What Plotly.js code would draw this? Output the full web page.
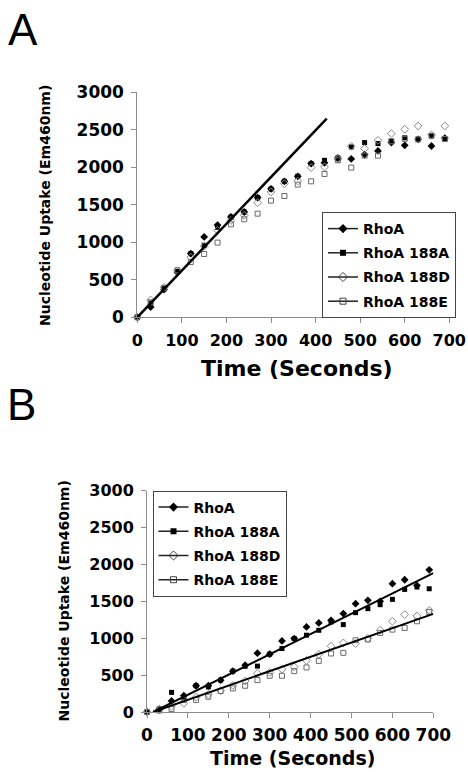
<!DOCTYPE html>
<html>
<head>
<meta charset="utf-8">
<script src="https://cdn.plot.ly/plotly-3.0.1.min.js"></script>
<style>html,body{margin:0;padding:0;background:#fff;}#chart{width:468px;height:772px;}</style>
</head>
<body>
<div id="chart"></div>
<script>
// ---- Data ----
const seriesNames = ["RhoA", "RhoA 188A", "RhoA 188D", "RhoA 188E"];
const xTicks = [0, 100, 200, 300, 400, 500, 600, 700];
const yTicks = [0, 500, 1000, 1500, 2000, 2500, 3000];

// Panel A
const timeA = [0,30,60,90,120,150,180,210,240,270,300,330,360,390,420,450,480,510,540,570,600,630,660,690];
const rhoA_A   = [0,137,370,600,849,1071,1230,1337,1404,1596,1711,1813,1880,2049,2060,2124,2111,2170,2218,2330,2293,2373,2284,2390];
const r188A_A  = [0,190,380,610,849,960,1200,1337,1404,1596,1711,1813,1880,2049,2093,2124,2271,2329,2316,2347,2393,2373,2420,2377];
const r188D_A  = [0,231,400,620,800,947,1160,1290,1360,1529,1671,1782,1817,1996,2004,2110,2280,2249,2360,2449,2507,2551,2430,2551];
const r188E_A  = [0,200,390,627,737,844,996,1240,1307,1382,1556,1617,1769,1813,1911,2093,1996,2156,2156,2347,2380,2373,2420,2377];
const fitA_x = [0, 425];
const fitA_y = [0, 2650];

// Panel B
const timeB = [0,30,60,90,120,150,180,210,240,270,300,330,360,390,420,450,480,510,540,570,600,630,660,690];
const rhoA_B   = [0,40,150,221,356,356,432,554,635,797,784,964,996,1153,1207,1243,1334,1468,1514,1500,1739,1793,1716,1928];
const r188A_B  = [0,40,266,200,356,340,432,554,620,622,784,860,996,1041,1108,1221,1185,1347,1401,1455,1527,1662,1694,1671];
const r188D_B  = [0,30,80,117,200,240,290,360,420,523,536,580,612,700,780,892,937,928,1000,1108,1230,1320,1302,1378];
const r188E_B  = [0,20,40,162,162,207,284,320,356,432,491,491,554,604,693,793,802,973,982,1072,1117,1140,1230,1356];
const fitB1_x = [15, 700];
const fitB1_y = [0, 1882];
const fitB2_x = [15, 700];
const fitB2_y = [0, 1330];

// ---- Styles ----
const FONT = "DejaVu Sans";
const styles = [
  {symbol: "diamond", color: "#000", size: 6, lw: 0},
  {symbol: "square", color: "#000", size: 5, lw: 0},
  {symbol: "diamond-open", color: "#8a8a8a", size: 6, lw: 1},
  {symbol: "square-open", color: "#6a6a6a", size: 5, lw: 1}
];

function dataTraces(x, ys, xa, ya) {
  return ys.map((y, i) => ({
    type: "scatter", mode: "markers", x: x, y: y, xaxis: xa, yaxis: ya,
    showlegend: false, cliponaxis: false, hoverinfo: "skip",
    marker: {symbol: styles[i].symbol, size: styles[i].size, color: styles[i].color,
             line: {width: styles[i].lw, color: styles[i].color}}
  }));
}
function legendTraces(legendId, xa, ya) {
  return seriesNames.map((n, i) => ({
    type: "scatter", mode: "lines+markers", x: [null], y: [null], xaxis: xa, yaxis: ya,
    name: n, legend: legendId, legendgroup: legendId + i,
    line: {color: "#222", width: 1.5},
    marker: {symbol: styles[i].symbol, size: styles[i].size + 1, color: i < 2 ? "#000" : "#444",
             line: {width: i < 2 ? 0 : 1, color: i < 2 ? "#000" : "#444"}}
  }));
}

const traces = [].concat(
  dataTraces(timeA, [rhoA_A, r188A_A, r188D_A, r188E_A], "x", "y"),
  [{type: "scatter", mode: "lines", x: fitA_x, y: fitA_y, xaxis: "x", yaxis: "y",
    showlegend: false, hoverinfo: "skip", line: {color: "#000", width: 2.5}}],
  legendTraces("legend", "x", "y"),
  dataTraces(timeB, [rhoA_B, r188A_B, r188D_B, r188E_B], "x2", "y2"),
  [{type: "scatter", mode: "lines", x: fitB1_x, y: fitB1_y, xaxis: "x2", yaxis: "y2",
    showlegend: false, hoverinfo: "skip", line: {color: "#000", width: 2}},
   {type: "scatter", mode: "lines", x: fitB2_x, y: fitB2_y, xaxis: "x2", yaxis: "y2",
    showlegend: false, hoverinfo: "skip", line: {color: "#000", width: 2}}],
  legendTraces("legend2", "x2", "y2")
);

function xAxis(domain, anchor, fs) {
  return {domain: domain, anchor: anchor, range: [0, 700], tickvals: xTicks, ticktext: xTicks.map(String),
    showgrid: false, zeroline: false, showline: true, linecolor: "#8c8c8c", linewidth: 1,
    ticks: "outside", ticklen: 5, tickcolor: "#8c8c8c", ticklabelstandoff: 3,
    tickfont: {family: FONT, size: fs, color: "#000", weight: "bold"}, fixedrange: true};
}
function yAxis(domain, anchor, fs) {
  return {domain: domain, anchor: anchor, range: [0, 3000], tickvals: yTicks, ticktext: yTicks.map(String),
    showgrid: false, zeroline: false, showline: true, linecolor: "#8c8c8c", linewidth: 1,
    ticks: "outside", ticklen: 5, tickcolor: "#8c8c8c", ticklabelstandoff: 4,
    tickfont: {family: FONT, size: fs, color: "#000", weight: "bold"}, fixedrange: true};
}

const legendStyle = {
  xanchor: "left", yanchor: "top", bgcolor: "#fff", bordercolor: "#444", borderwidth: 1,
  font: {family: FONT, size: 14, color: "#000", weight: "bold"}, tracegroupgap: 3,
  itemwidth: 30, itemclick: false, itemdoubleclick: false
};

const layout = {
  width: 468, height: 772, margin: {l: 0, r: 0, t: 0, b: 0},
  paper_bgcolor: "#fff", plot_bgcolor: "#fff", showlegend: true,
  xaxis: xAxis([137.3/468, 449.3/468], "y", 16),
  yaxis: yAxis([1 - 317.3/772, 1 - 92.3/772], "x", 17),
  xaxis2: xAxis([147/468, 433.3/468], "y2", 17),
  yaxis2: yAxis([1 - 712/772, 1 - 490.7/772], "x2", 16),
  legend: Object.assign({x: 322/468, y: 1 - 212/772}, legendStyle),
  legend2: Object.assign({x: 152.5/468, y: 1 - 490.5/772}, legendStyle),
  annotations: [
    {text: "A", x: 22.5/468, y: 1 - 29/772, xref: "paper", yref: "paper", showarrow: false,
     xanchor: "center", yanchor: "middle", font: {family: "Liberation Sans", size: 44, color: "#000"}},
    {text: "B", x: 21/468, y: 1 - 404/772, xref: "paper", yref: "paper", showarrow: false,
     xanchor: "center", yanchor: "middle", font: {family: "Liberation Sans", size: 44, color: "#000"}},
    {text: "Time (Seconds)", x: 296.7/468, y: 1 - 369/772, xref: "paper", yref: "paper", showarrow: false,
     xanchor: "center", yanchor: "middle", font: {family: FONT, size: 22, color: "#000", weight: "bold"}},
    {text: "Nucleotide Uptake (Em460nm)", x: 45/468, y: 1 - 206/772, xref: "paper", yref: "paper", showarrow: false,
     textangle: -90, xanchor: "center", yanchor: "middle", font: {family: FONT, size: 14, color: "#000", weight: "bold"}},
    {text: "Time (Seconds)", x: 292.5/468, y: 1 - 771/772, xref: "paper", yref: "paper", showarrow: false,
     xanchor: "center", yanchor: "bottom", font: {family: FONT, size: 19, color: "#000", weight: "bold"}},
    {text: "Nucleotide Uptake (Em460nm)", x: 63.5/468, y: 1 - 601/772, xref: "paper", yref: "paper", showarrow: false,
     textangle: -90, xanchor: "center", yanchor: "middle", font: {family: FONT, size: 14, color: "#000", weight: "bold"}}
  ]
};

Plotly.newPlot("chart", traces, layout, {staticPlot: true, displayModeBar: false});
</script>
</body>
</html>
